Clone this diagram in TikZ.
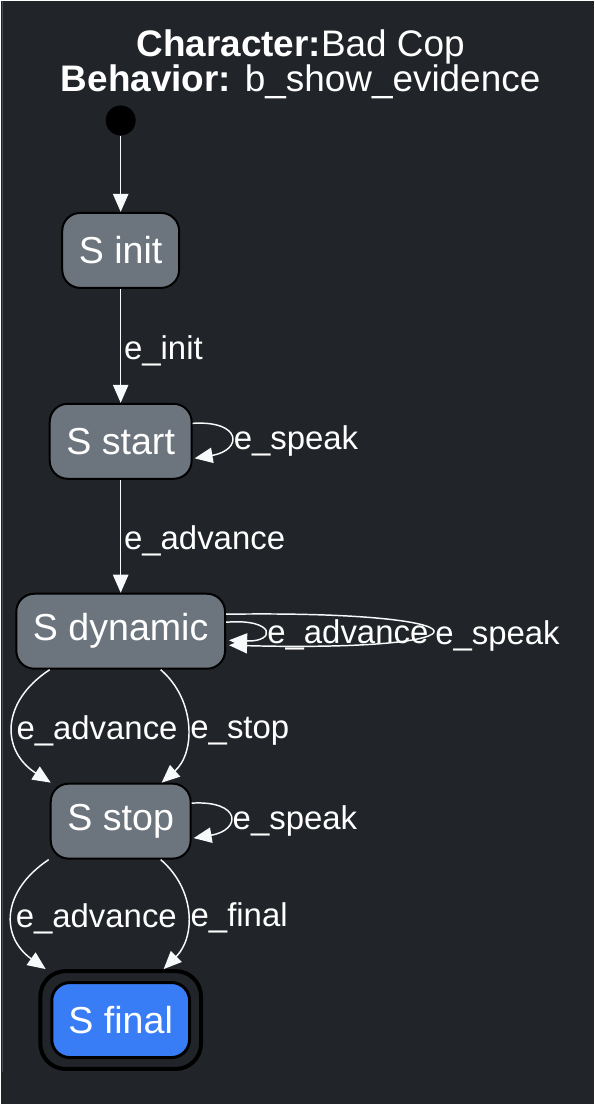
\documentclass[tikz,border=0pt]{standalone}
\usepackage{fontspec}
\setmainfont{Liberation Sans}
\usetikzlibrary{arrows.meta,calc,fit}

\definecolor{bgdark}{RGB}{33,37,41}
\definecolor{stategrey}{RGB}{108,117,125}
\definecolor{finalblue}{RGB}{56,125,246}
\definecolor{edgewhite}{RGB}{248,249,250}
\definecolor{railgrey}{RGB}{70,74,80}

\newcommand\stfont{\fontsize{28.2pt}{33pt}\selectfont}
\newcommand\lbfont{\fontsize{24.7pt}{29pt}\selectfont}
\newcommand\ttlfont{\fontsize{27.7pt}{26.5pt}\selectfont}

\tikzset{every picture/.style={line width=0.75pt}}
\tikzset{
  state/.style={draw=black, line width=1.5pt, fill=stategrey, text=white, rounded corners=13.5pt, minimum height=56.25pt, inner xsep=12.5pt, font=\stfont},
  edge/.style={draw=edgewhite, line width=1.1pt, -{Triangle[length=13.5pt,width=11.5pt]}},
  lbl/.style={text=white, font=\lbfont, inner sep=2pt, anchor=west, yshift=-3.5pt},
}

\begin{document}
\begin{tikzpicture}[x=0.75pt,y=0.75pt,yscale=-1,xscale=1]
  %set diagram area: 594 x 1104
  \path[fill=bgdark] (0,0) rectangle (594,1104);
  %Straight Lines: left rule
  \draw[railgrey, line width=0.75pt] (2,0) -- (2,1072);

  % Text Node
  \node[text=white, font=\ttlfont, align=center] (ttl) at (300,64) {\textbf{Character:}Bad Cop\\\textbf{Behavior:} b\_show\_evidence};

  %Shape: Circle
  \node[circle, fill=black, minimum size=22.5pt, inner sep=0pt] (ini) at (120,120) {};
  %Shape: Rounded Rect
  \node[state] (init) at (120,250) {S init};
  %Shape: Rounded Rect
  \node[state] (start) at (120,441) {S start};
  %Shape: Rounded Rect
  \node[state] (dyn) at (120,631) {S dynamic};
  %Shape: Rounded Rect
  \node[state] (stop) at (120,821) {S stop};
  %Shape: Rounded Rect (final, double border)
  \node[state, fill=finalblue, line width=2.2pt] (fin) at (120,1020) {S final};
  \node[draw=black, line width=3pt, rounded corners=19pt, inner sep=7.5pt, fit=(fin)] (finout) {};

  %Straight Lines
  \draw[edge] (ini) -- (init);
  \draw[edge] (init) -- node[lbl, midway] {e\_init} (start);
  \draw[edge] (start) -- node[lbl, midway] {e\_advance} (dyn);

  %Curve Lines: self loops
  \draw[edge] ($(start.east)+(0,-18)$) .. controls +(50,-3) and +(48,-8) .. ($(start.east)+(2,17)$) node[lbl, pos=0.5] {e\_speak};
  \draw[edge] ($(dyn.east)+(0,-9)$) .. controls +(50,-4) and +(47,2) .. ($(dyn.east)+(3,9)$) node[lbl, pos=0.5] {e\_advance};
  \draw[edge] ($(dyn.east)+(0,-17)$) .. controls +(274,-4) and +(271,7) .. ($(dyn.east)+(3,14)$) node[lbl, pos=0.5] {e\_speak};
  \draw[edge] ($(stop.east)+(0,-18)$) .. controls +(50,-3) and +(48,-8) .. ($(stop.east)+(2,17)$) node[lbl, pos=0.5] {e\_speak};

  %Curve Lines: dynamic to stop
  \draw[edge] ($(dyn.south)+(-71,0)$) .. controls +(-49,32) and +(-50,-32) .. ($(stop.north)+(-70,0)$) node[lbl, pos=0.5] {e\_advance};
  \draw[edge] ($(dyn.south)+(40,0)$) .. controls +(35,30) and +(34,-30) .. ($(stop.north)+(41,0)$) node[lbl, pos=0.5] {e\_stop};

  %Curve Lines: stop to final
  \draw[edge] ($(stop.south)+(-72,0)$) .. controls +(-48,32) and +(-45,-32) .. ($(finout.north)+(-75,0)$) node[lbl, pos=0.5] {e\_advance};
  \draw[edge] ($(stop.south)+(40,0)$) .. controls +(35,30) and +(32,-32) .. ($(finout.north)+(43,0)$) node[lbl, pos=0.5] {e\_final};

\end{tikzpicture}
\end{document}
